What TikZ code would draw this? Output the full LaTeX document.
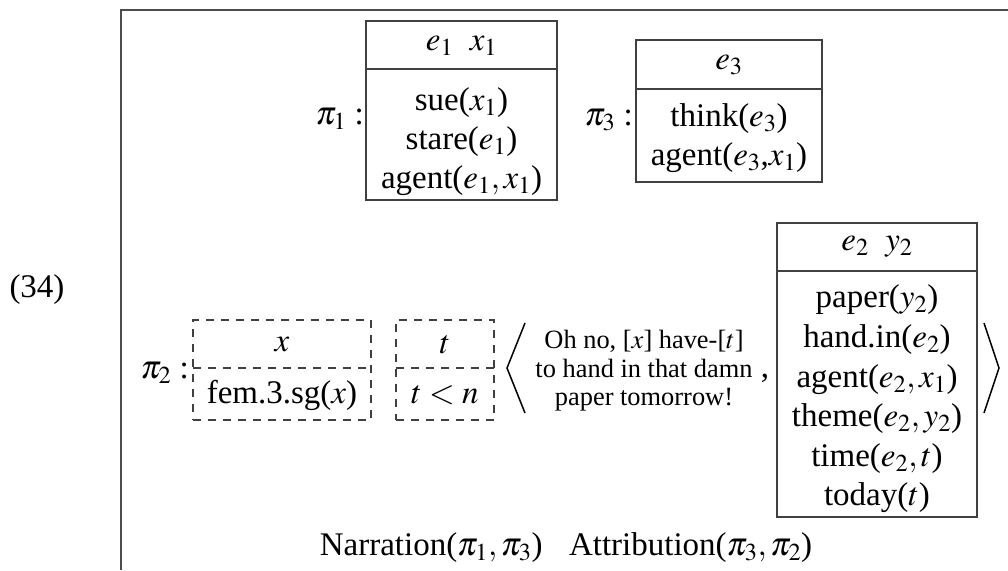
\documentclass[tikz,border=0pt]{standalone}
\usepackage{mathptmx}
\usepackage{fontspec}
\setmainfont{Liberation Serif}
\begin{document}
\begin{tikzpicture}[x=1pt,y=-1pt,
  frameline/.style={draw=black!70, line width=1.4pt},
  drsbox/.style={draw=black!75, line width=1.3pt, rectangle, inner sep=0pt},
  drsline/.style={draw=black!75, line width=1.3pt},
  dashbox/.style={drsbox, dash pattern=on 8pt off 7pt},
  dashline/.style={drsline, dash pattern=on 8pt off 7pt},
  angle/.style={draw=black, line width=1.5pt},
  txt/.style={inner sep=0pt, align=center, font=\fontsize{33}{39}\selectfont},
  txtb/.style={inner sep=0pt, align=center, font=\fontsize{33}{39.6}\selectfont},
  small/.style={inner sep=0pt, align=center, font=\fontsize{26.4}{28.5}\selectfont}]
\useasboundingbox (0,0) rectangle (1008,570);
% outer frame (cut by page)
\coordinate (fbl) at (121,570);
\coordinate (ftl) at (121,10);
\coordinate (ftr) at (1008,10);
\draw[frameline] (fbl) -- (ftl) -- (ftr);

\node[txt] (num) at (37,290) {(34)};

% pi1 box
\node[drsbox, minimum width=191pt, minimum height=179pt] (b1) at (461.5,110.5) {};
\draw[drsline] (366,69) -- (557,69);
\node[txt] (b1h) at (461.5,46) {$e_1\enspace x_1$};
\node[txt] (b1c) at (461.5,142) {sue($x_1$)\\stare($e_1$)\\agent($e_1,x_1$)};
\node[txt, anchor=east] (p1) at (364,119) {$\pi_1$ :};

% pi3 box
\node[drsbox, minimum width=186pt, minimum height=142pt] (b3) at (729,111) {};
\draw[drsline] (636,89) -- (822,89);
\node[txt] (b3h) at (729,65) {$e_3$};
\node[txt] (b3c) at (729,138) {think($e_3$)\\agent($e_3$,$x_1$)};
\node[txt, anchor=east] (p3) at (633,120) {$\pi_3$ :};

% pi2 row
\node[txt, anchor=east] (p2) at (189,373) {$\pi_2$ :};
\node[dashbox, minimum width=178pt, minimum height=100pt] (dx) at (282,370) {};
\draw[dashline] (193,368) -- (371,368);
\node[txt] (dxh) at (282,345) {$x$};
\node[txt] (dxc) at (282,395) {fem.3.sg($x$)};

\node[dashbox, minimum width=98pt, minimum height=100pt] (dt) at (445,370) {};
\draw[dashline] (396,368) -- (494,368);
\node[txt] (dth) at (445,345) {$t$};
\node[txt] (dtc) at (445,395) {$t<n$};

\draw[angle] (525,323) -- (507,368) -- (525,413);
\node[small] (quote) at (644,371) {Oh no, [$x$] have-[$t$]\\to hand in that damn\\paper tomorrow!};
\node[txt, anchor=base] (comma) at (765,377) {,};

\node[drsbox, minimum width=200pt, minimum height=294pt] (b2) at (877,370) {};
\draw[drsline] (777,271) -- (977,271);
\node[txt] (b2h) at (877,247) {$e_2\enspace y_2$};
\node[txtb] (b2c) at (877,399) {paper($y_2$)\\hand.in($e_2$)\\agent($e_2,x_1$)\\theme($e_2,y_2$)\\time($e_2,t$)\\today($t$)};
\draw[angle] (984,323) -- (999,368) -- (984,413);

\node[txt] (rel) at (566,548) {Narration($\pi_1,\pi_3$)\hspace{0.8em}Attribution($\pi_3,\pi_2$)};
\end{tikzpicture}
\end{document}
